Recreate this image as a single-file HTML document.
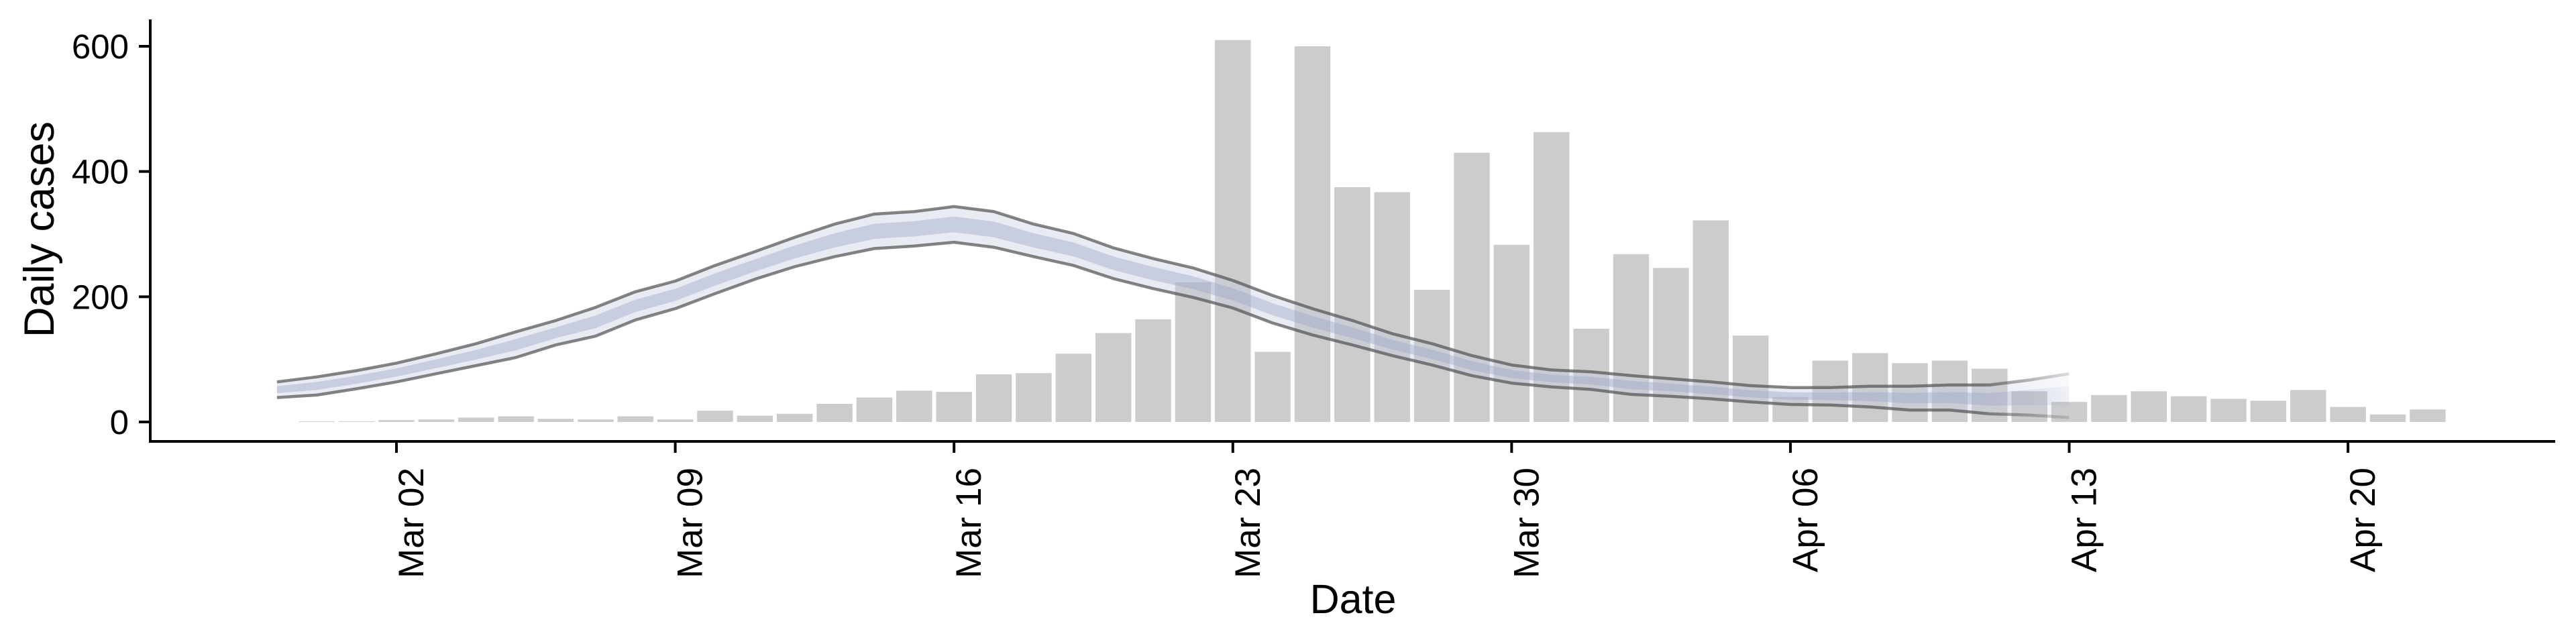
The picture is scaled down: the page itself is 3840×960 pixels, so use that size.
<!DOCTYPE html>
<html><head><meta charset="utf-8"><style>
html,body{margin:0;padding:0;background:#fff;}
svg{display:block;font-family:"Liberation Sans",Arial,sans-serif;}
</style></head><body>
<svg id="chart" width="3840" height="960" viewBox="0 0 3840 960" xmlns="http://www.w3.org/2000/svg">
<defs>
<linearGradient id="fadeGrad" gradientUnits="userSpaceOnUse" x1="2950" y1="0" x2="3090" y2="0">
<stop offset="0" stop-color="#fff" stop-opacity="1"/>
<stop offset="1" stop-color="#fff" stop-opacity="0.25"/>
</linearGradient>
<mask id="fadeMask" maskUnits="userSpaceOnUse" x="0" y="0" width="3840" height="960">
<rect x="0" y="0" width="3840" height="960" fill="url(#fadeGrad)"/>
</mask>
</defs>
<g id="bars"></g>
<g id="bands" mask="url(#fadeMask)"></g>
<g id="axes"></g>
</svg>
<script>
// ---- data ----
const barStartDate = "2020-02-29";
const barValues = [1,1,3,4,7,9,5,4,9,4,18,10,13,29,39,50,48,76,78,109,142,164,223,610,112,600,375,367,211,430,283,463,149,268,246,322,138,40,98,110,94,98,85,49,32,43,49,41,37,34,51,24,12,20];
const bandStartDate = "2020-02-28";
const bandUpper = [64,72,82,94,109,125,144,162,183,208,225,250,272,295,316,332,336,344,336,316,301,278,261,246,226,202,181,162,141,125,106,91,83,80,74,69,64,58,55,55,57,57,59,59,67,77];
const bandLower = [39,43,53,64,77,90,103,123,137,163,181,205,228,248,264,277,281,287,279,264,250,229,213,199,182,158,139,123,106,91,74,62,56,52,44,41,37,32,28,27,24,19,19,13,11,7];
const yTicks = [0,200,400,600];
const xTickLabels = ["Mar 02","Mar 09","Mar 16","Mar 23","Mar 30","Apr 06","Apr 13","Apr 20"];
const xTickDates = ["2020-03-02","2020-03-09","2020-03-16","2020-03-23","2020-03-30","2020-04-06","2020-04-13","2020-04-20"];

// ---- scales ----
const NS="http://www.w3.org/2000/svg";
const DAY=86400000;
const origin=Date.parse("2020-03-02T00:00:00Z");
function dayIdx(s){return Math.round((Date.parse(s+"T00:00:00Z")-origin)/DAY);}
const x0=591, pxPerDay=59.37;
function xs(d){return x0+d*pxPerDay;}
function ys(v){return 629-v*(560/600);}
function mk(tag,attrs,parent){const e=document.createElementNS(NS,tag);for(const k in attrs)e.setAttribute(k,attrs[k]);parent.appendChild(e);return e;}

// bars
const gb=document.getElementById('bars');
const b0=dayIdx(barStartDate);
barValues.forEach((v,i)=>{
  const cx=xs(b0+i), w=pxPerDay*0.9;
  const r=mk('rect',{x:cx-w/2,y:ys(v),width:w,height:ys(0)-ys(v),fill:'#cccccc'},gb);
  
  
});

// bands
const gd=document.getElementById('bands');
const s0=dayIdx(bandStartDate);
function poly(upArr,loArr){
  let p=[];
  upArr.forEach((v,i)=>p.push(xs(s0+i).toFixed(1)+','+ys(v).toFixed(1)));
  for(let i=loArr.length-1;i>=0;i--)p.push(xs(s0+i).toFixed(1)+','+ys(loArr[i]).toFixed(1));
  return p.join(' ');
}
const outer=mk('polygon',{points:poly(bandUpper,bandLower),fill:'rgb(200,205,225)','fill-opacity':0.4},gd);


const innerU=bandUpper.map((u,i)=>(u+bandLower[i])/2+(u-bandLower[i])*0.22);
const innerL=bandUpper.map((u,i)=>(u+bandLower[i])/2-(u-bandLower[i])*0.22);
const inner=mk('polygon',{points:poly(innerU,innerL),fill:'rgb(150,160,195)','fill-opacity':0.4},gd);


function line(arr,name){
  const pts=arr.map((v,i)=>xs(s0+i).toFixed(1)+','+ys(v).toFixed(1)).join(' ');
  const l=mk('polyline',{points:pts,fill:'none',stroke:'rgb(80,80,80)','stroke-opacity':0.7,'stroke-width':4.5,'stroke-linejoin':'round'},gd);
  
  
}
line(bandUpper,'upper-bound-line');
line(bandLower,'lower-bound-line');

// axes
const ga=document.getElementById('axes');
const ya=mk('line',{x1:224,y1:29,x2:224,y2:660,stroke:'#000','stroke-width':4},ga);


const xa=mk('line',{x1:222,y1:658,x2:3809,y2:658,stroke:'#000','stroke-width':4},ga);


yTicks.forEach(v=>{
  const t=mk('line',{x1:207,y1:ys(v),x2:224,y2:ys(v),stroke:'#000','stroke-width':4},ga);
  
  
  const tx=mk('text',{x:192,y:ys(v)+18,'text-anchor':'end','font-size':51,fill:'#000'},ga);
  tx.textContent=v;
  
  
});
xTickDates.forEach((d,i)=>{
  const x=xs(dayIdx(d));
  const t=mk('line',{x1:x,y1:658,x2:x,y2:675,stroke:'#000','stroke-width':4},ga);
  
  
  const tx=mk('text',{transform:`translate(${x+40},697) rotate(-90)`,'text-anchor':'end','font-size':53,fill:'#000'},ga);
  tx.textContent=xTickLabels[i];
  
  
});
const yt=mk('text',{transform:'translate(80,342) rotate(-90)','text-anchor':'middle','font-size':63,fill:'#000'},ga);
yt.textContent='Daily cases';


const xt=mk('text',{x:2017,y:914,'text-anchor':'middle','font-size':61,fill:'#000'},ga);
xt.textContent='Date';


</script>
</body></html>
